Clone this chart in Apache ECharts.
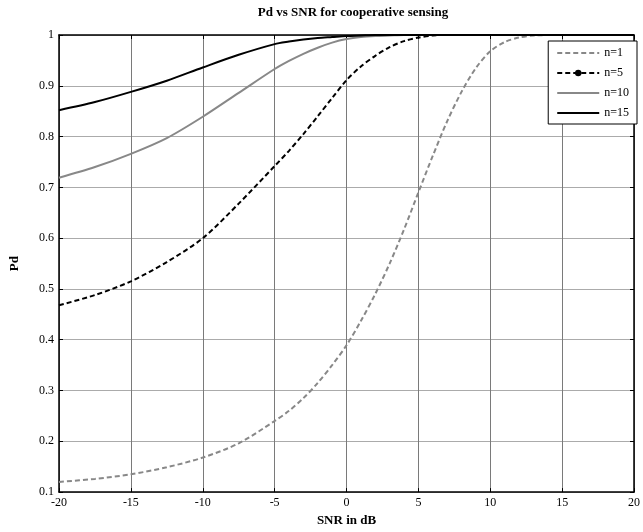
<!DOCTYPE html>
<html>
<head>
<meta charset="utf-8">
<script src="https://cdn.jsdelivr.net/npm/echarts@6/dist/echarts.min.js"></script>
<style>
  html, body { margin: 0; padding: 0; background: #fff; }
  #chart { width: 643px; height: 532px; }
</style>
</head>
<body>
<div id="chart"></div>
<script>
// SNR sample points (dB), denser where the curves bend
const snr = [-20, -17.5, -15, -12.5, -10, -7.5, -5, -4, -3, -2, -1, 0, 1, 2, 3, 4, 5, 6, 7, 8, 9, 10, 11, 12, 13, 15, 17.5, 20];

// Pd for each number of cooperating users
const pdN1  = [0.120, 0.126, 0.135, 0.149, 0.168, 0.196, 0.240, 0.260, 0.285, 0.315, 0.350, 0.389, 0.437, 0.490,
               0.550, 0.617, 0.690, 0.762, 0.830, 0.888, 0.935, 0.968, 0.986, 0.995, 0.999, 1, 1, 1];
const pdN5  = [0.468, 0.488, 0.515, 0.553, 0.600, 0.668, 0.742, 0.772, 0.805, 0.840, 0.876, 0.911, 0.938, 0.959,
               0.976, 0.988, 0.995, 0.999, 1, 1, 1, 1, 1, 1, 1, 1, 1, 1];
const pdN10 = [0.719, 0.740, 0.766, 0.797, 0.839, 0.886, 0.933, 0.949, 0.963, 0.975, 0.985, 0.992, 0.996, 0.998,
               0.999, 1, 1, 1, 1, 1, 1, 1, 1, 1, 1, 1, 1, 1];
const pdN15 = [0.852, 0.868, 0.888, 0.910, 0.936, 0.961, 0.982, 0.987, 0.991, 0.994, 0.996, 0.998, 0.999, 1,
               1, 1, 1, 1, 1, 1, 1, 1, 1, 1, 1, 1, 1, 1];

const FONT = '"Liberation Serif", "Times New Roman", serif';

const toPairs = arr => snr.map((x, i) => [x, arr[i]]);

const chart = echarts.init(document.getElementById('chart'));

const baseAxisLine = { show: true, onZero: false, lineStyle: { color: '#000', width: 1.5 } };
const inTick = { show: true, inside: true, length: 4, lineStyle: { color: '#000' } };

const curve = (name, data, color, dashed, withDot) => ({
    name,
    type: 'line',
    smooth: 0.3,
    showSymbol: false,
    symbol: withDot ? 'circle' : 'none',
    symbolSize: 4,
    lineStyle: { color, width: 2, type: dashed ? [5, 3] : 'solid' },
    itemStyle: { color },
    data: toPairs(data)
});

chart.setOption({
    backgroundColor: '#fff',
    animation: false,
    title: {
        text: 'Pd vs SNR for cooperative sensing',
        left: 348,
        textAlign: 'center',
        top: 1,
        textStyle: { fontFamily: FONT, fontSize: 13, fontWeight: 'bold', color: '#000' }
    },
    legend: {
        // only n=5 carries a dot marker in its legend sample
        data: [
            { name: 'n=1', itemStyle: { opacity: 0 } },
            { name: 'n=5' },
            { name: 'n=10', itemStyle: { opacity: 0 } },
            { name: 'n=15', itemStyle: { opacity: 0 } }
        ],
        orient: 'vertical',
        right: 6,
        top: 41,
        itemWidth: 42,
        itemHeight: 8,
        itemGap: 8,
        padding: [6, 8, 5, 8],
        backgroundColor: '#fff',
        borderColor: '#000',
        borderWidth: 1,
        borderRadius: 0,
        textStyle: { fontFamily: FONT, fontSize: 12, color: '#000' }
    },
    grid: { left: 58, right: 4, top: 35, bottom: 39 },
    xAxis: [
        {
            type: 'value',
            min: -20, max: 20, interval: 5,
            name: 'SNR in dB',
            nameLocation: 'middle',
            nameGap: 20,
            nameTextStyle: { fontFamily: FONT, fontSize: 13, fontWeight: 'bold', color: '#000' },
            axisLine: baseAxisLine,
            axisTick: inTick,
            axisLabel: { fontFamily: FONT, fontSize: 12, color: '#000', margin: 5 },
            splitLine: { show: true, lineStyle: { color: '#7a7a7a', width: 1 } }
        },
        {
            type: 'value',
            position: 'top',
            min: -20, max: 20, interval: 5,
            axisLine: baseAxisLine,
            axisTick: inTick,
            axisLabel: { show: false },
            splitLine: { show: false }
        }
    ],
    yAxis: [
        {
            type: 'value',
            position: 'left',
            min: 0.1, max: 1, interval: 0.1,
            name: 'Pd',
            nameLocation: 'middle',
            nameRotate: 90,
            nameGap: 38,
            nameTextStyle: { fontFamily: FONT, fontSize: 13, fontWeight: 'bold', color: '#000' },
            axisLine: baseAxisLine,
            axisTick: inTick,
            axisLabel: {
                fontFamily: FONT, fontSize: 12, color: '#000', margin: 5,
                formatter: v => String(+v.toFixed(1))
            },
            splitLine: { show: true, lineStyle: { color: '#ababab', width: 1 } }
        },
        {
            type: 'value',
            position: 'right',
            min: 0.1, max: 1, interval: 0.1,
            axisLine: baseAxisLine,
            axisTick: inTick,
            axisLabel: { show: false },
            splitLine: { show: false }
        }
    ],
    series: [
        curve('n=1', pdN1, '#888', true, false),
        curve('n=5', pdN5, '#000', true, true),
        curve('n=10', pdN10, '#888', false, false),
        curve('n=15', pdN15, '#000', false, false)
    ]
});
</script>
</body>
</html>
